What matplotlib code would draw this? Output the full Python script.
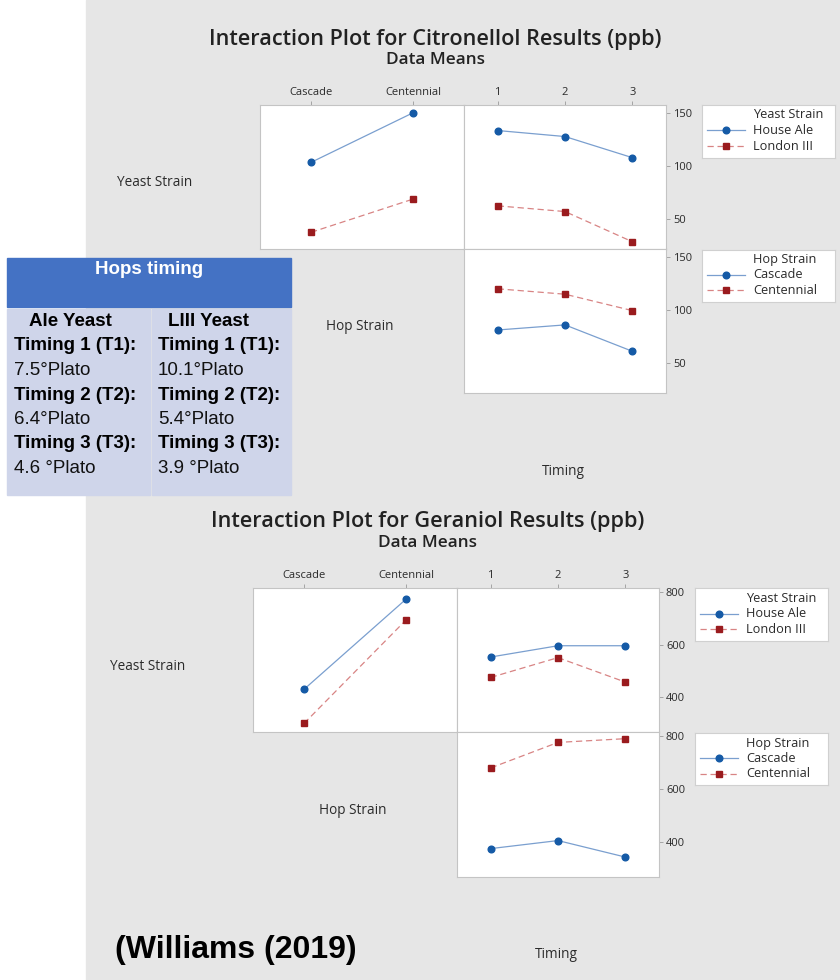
import matplotlib
matplotlib.use("Agg")
import matplotlib.pyplot as plt
from matplotlib.patches import Rectangle
from matplotlib.lines import Line2D

plt.rcParams["font.family"] = ["Open Sans", "DejaVu Sans"]

W, H = 840, 980

# Categories
hop_strains = ["Cascade", "Centennial"]
timings = ["1", "2", "3"]
yeast_strains = ["House Ale", "London III"]

# Citronellol means (ppb)
citro_ale_by_hop = [103.6, 150.6]
citro_l3_by_hop = [37.3, 68.8]
citro_ale_by_time = [133.8, 128.1, 108.1]
citro_l3_by_time = [62.4, 57.0, 28.4]
citro_cascade_by_time = [81.5, 86.3, 61.4]
citro_centennial_by_time = [120.4, 115.3, 99.8]
citro_yticks = [50, 100, 150]

# Geraniol means (ppb)
ger_ale_by_hop = [430.0, 772.5]
ger_l3_by_hop = [300.5, 693.5]
ger_ale_by_time = [552.8, 595.7, 595.7]
ger_l3_by_time = [475.3, 550.5, 457.6]
ger_cascade_by_time = [373.6, 404.0, 341.6]
ger_centennial_by_time = [679.0, 775.6, 789.7]
ger_yticks = [400, 600, 800]

# Hops timing table
table_title = "Hops timing"
table_heads = ["Ale Yeast", "LIII Yeast"]
timing_names = ["Timing 1 (T1):", "Timing 2 (T2):", "Timing 3 (T3):"]
ale_plato = ["7.5°Plato", "6.4°Plato", "4.6 °Plato"]
l3_plato = ["10.1°Plato", "5.4°Plato", "3.9 °Plato"]

STYLE_A = dict(color="#7a9fcf", lw=0.9, ls="-", marker="o", ms=4.8,
               mfc="#155aa6", mec="#155aa6")
STYLE_B = dict(color="#d88484", lw=0.9, ls=(0, (5, 3)), marker="s", ms=4.8,
               mfc="#9a1b1e", mec="#9a1b1e")

BG = "#e6e6e6"
FRAME = "#c4c4c4"
TXT = "#2b2b2b"


def px_axes(fig, x0, y0, x1, y1):
    return fig.add_axes([x0 / W, 1 - y1 / H, (x1 - x0) / W, (y1 - y0) / H])


def px_text(fig, x, y, s, **kw):
    kw.setdefault("va", "center")
    return fig.text(x / W, 1 - y / H, s, **kw)


def draw_panel(ax, labels, series, ylim, top_ticks, right_ticks, yticks):
    xs = list(range(len(labels)))
    for values, style in series:
        ax.plot(xs, values, **style)
    ax.set_xlim(-0.5, len(labels) - 0.5)
    ax.set_ylim(*ylim)
    ax.set_facecolor("white")
    for sp in ax.spines.values():
        sp.set_color(FRAME)
        sp.set_linewidth(0.8)
    ax.tick_params(colors="#9a9a9a", labelcolor=TXT, labelsize=8,
                   length=3, width=0.6, pad=2)
    if top_ticks:
        ax.xaxis.tick_top()
        ax.set_xticks(xs)
        ax.set_xticklabels(labels)
    else:
        ax.set_xticks([])
    if right_ticks:
        ax.yaxis.tick_right()
        ax.set_yticks(yticks)
    else:
        ax.set_yticks([])


def draw_legend(fig, box, title, labels, text_x, handle_x, rows_y):
    x0, y0, x1, y1 = box
    lax = px_axes(fig, x0, y0, x1, y1)
    lax.set_xlim(x0, x1)
    lax.set_ylim(y1, y0)
    lax.set_facecolor("white")
    lax.set_xticks([])
    lax.set_yticks([])
    for sp in lax.spines.values():
        sp.set_color("#d0d0d0")
        sp.set_linewidth(0.8)
    lax.text(text_x, rows_y[0], title, fontsize=9.2, color=TXT,
             va="center", ha="left")
    for label, style, y in zip(labels, [STYLE_A, STYLE_B], rows_y[1:]):
        lax.add_line(Line2D(list(handle_x), [y, y], **{k: v for k, v in style.items() if k != "marker"}))
        lax.add_line(Line2D([sum(handle_x) / 2], [y], marker=style["marker"],
                            ms=style["ms"], mfc=style["mfc"], mec=style["mec"], ls="none"))
        lax.text(text_x, y, label, fontsize=9.2, color=TXT, va="center", ha="left")


def draw_interaction_plot(fig, origin, ylim, yticks, ale_hop, l3_hop, ale_time,
                          l3_time, casc_time, cent_time, title):
    ox, oy = origin
    left = px_axes(fig, ox, oy, ox + 204, oy + 144)
    draw_panel(left, hop_strains, [(ale_hop, STYLE_A), (l3_hop, STYLE_B)],
               ylim, True, False, yticks)
    tr = px_axes(fig, ox + 204, oy, ox + 406, oy + 144)
    draw_panel(tr, timings, [(ale_time, STYLE_A), (l3_time, STYLE_B)],
               ylim, True, True, yticks)
    br = px_axes(fig, ox + 204, oy + 144, ox + 406, oy + 288.5)
    draw_panel(br, timings, [(casc_time, STYLE_A), (cent_time, STYLE_B)],
               ylim, False, True, yticks)

    px_text(fig, ox + 175, oy - 66, title, fontsize=15.6, fontweight="semibold",
            color="#222222", ha="center")
    px_text(fig, ox + 175, oy - 45, "Data Means", fontsize=12.3,
            fontweight="semibold", color="#222222", ha="center")

    px_text(fig, ox - 105, oy + 78, "Yeast Strain", fontsize=9.8, color=TXT, ha="center")
    px_text(fig, ox + 100, oy + 222, "Hop Strain", fontsize=9.8, color=TXT, ha="center")
    px_text(fig, ox + 303, oy + 366, "Timing", fontsize=9.8, color=TXT, ha="center")

    lx0 = ox + 442
    draw_legend(fig, (lx0, oy, lx0 + 133, oy + 53), "Yeast Strain", yeast_strains,
                lx0 + 51, (lx0 + 5, lx0 + 43), [oy + 10, oy + 25.5, oy + 41])
    draw_legend(fig, (lx0, oy + 145, lx0 + 133, oy + 197), "Hop Strain", hop_strains,
                lx0 + 51, (lx0 + 5, lx0 + 43), [oy + 155, oy + 170, oy + 185.5])


fig = plt.figure(figsize=(W / 100, H / 100), dpi=100, facecolor="white")
fig.patches.append(Rectangle((86 / W, 0), 1 - 86 / W, 1, transform=fig.transFigure,
                             color=BG, zorder=-10))

draw_interaction_plot(fig, (260, 105), (21.5, 158), citro_yticks,
                      citro_ale_by_hop, citro_l3_by_hop, citro_ale_by_time,
                      citro_l3_by_time, citro_cascade_by_time, citro_centennial_by_time,
                      "Interaction Plot for Citronellol Results (ppb)")
draw_interaction_plot(fig, (253, 588), (268, 815), ger_yticks,
                      ger_ale_by_hop, ger_l3_by_hop, ger_ale_by_time,
                      ger_l3_by_time, ger_cascade_by_time, ger_centennial_by_time,
                      "Interaction Plot for Geraniol Results (ppb)")


# Hops timing table
def fig_rect(x0, y0, x1, y1, color):
    fig.patches.append(Rectangle((x0 / W, 1 - y1 / H), (x1 - x0) / W, (y1 - y0) / H,
                                 transform=fig.transFigure, color=color, zorder=5))


fig_rect(7, 258, 291, 307, "#4472c4")
fig_rect(7, 309, 150, 495, "#cfd5ea")
fig_rect(152, 309, 291, 495, "#cfd5ea")

tfont = dict(family=["Liberation Sans", "DejaVu Sans"], fontsize=13.5, zorder=6)
px_text(fig, 149, 270, table_title, color="white", fontweight="bold", ha="center", **tfont)
px_text(fig, 29, 321, table_heads[0], color="black", fontweight="bold", ha="left", **tfont)
px_text(fig, 168, 321, table_heads[1], color="black", fontweight="bold", ha="left", **tfont)
row_y = 346
for name, a, b in zip(timing_names, ale_plato, l3_plato):
    px_text(fig, 14, row_y, name, color="black", fontweight="bold", ha="left", **tfont)
    px_text(fig, 158, row_y, name, color="black", fontweight="bold", ha="left", **tfont)
    px_text(fig, 14, row_y + 24.5, a, color="#111111", ha="left", **tfont)
    px_text(fig, 158, row_y + 24.5, b, color="#111111", ha="left", **tfont)
    row_y += 49

px_text(fig, 115, 950, "(Williams (2019)", family=["Liberation Sans", "DejaVu Sans"],
        fontsize=23, fontweight="bold", color="black", ha="left")

fig.savefig("out.png", dpi=100, facecolor=fig.get_facecolor())
